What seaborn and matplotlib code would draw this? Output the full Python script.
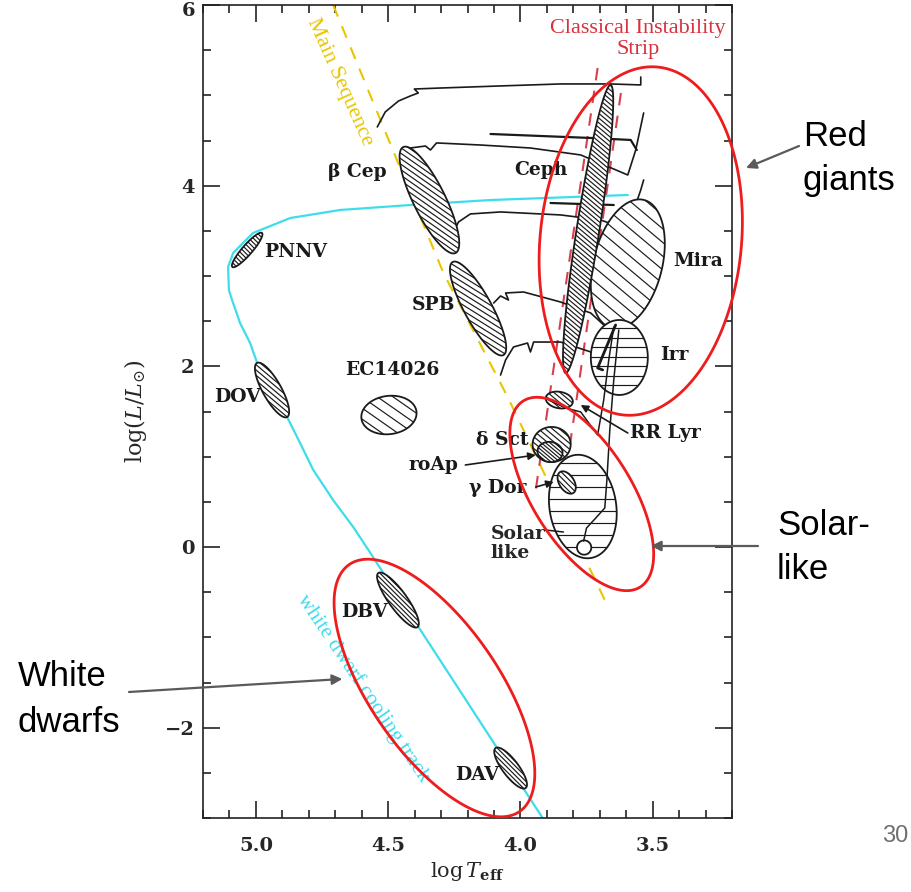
import numpy as np
import matplotlib
matplotlib.use("Agg")
from matplotlib import pyplot as plt
from matplotlib.patches import Polygon
from matplotlib.ticker import MultipleLocator, FuncFormatter
import seaborn as sns

# %%
# Data, all in (log Teff, log L/Lsun)

ms_logt = [4.708, 4.291, 4.048, 3.681]
ms_logl = [6.0, 3.033, 1.660, -0.587]

strip_blue_logt = [3.708, 3.942]
strip_blue_logl = [5.303, 0.631]
strip_red_logt = [3.620, 3.840]
strip_red_logl = [5.026, 0.575]

wd_track_logt = [3.594, 4.113, 4.416, 4.681, 4.870, 5.011, 5.086, 5.105, 5.102, 5.090,
                 5.060, 5.022, 4.995, 4.939, 4.882, 4.833, 4.783, 4.708, 4.632, 4.567, 3.916]
wd_track_logl = [3.897, 3.841, 3.786, 3.731, 3.642, 3.476, 3.255, 3.100, 2.845, 2.734,
                 2.480, 2.258, 2.037, 1.738, 1.439, 1.151, 0.852, 0.520, 0.221, -0.067, -3.0]

# evolutionary tracks (behind the regions)
track1_logt = [4.541, 4.511, 4.461, 4.416, 4.386, 4.401, 4.302, 4.075, 3.848, 3.658, 3.545, 3.545]
track1_logl = [4.650, 4.816, 4.937, 4.993, 5.026, 5.070, 5.081, 5.104, 5.126, 5.126, 5.115, 5.203]
track2_logt = [4.416, 4.359, 4.340, 4.317, 4.151, 3.962, 3.772, 3.594, 3.564, 3.534]
track2_logl = [4.417, 4.439, 4.395, 4.473, 4.450, 4.417, 4.340, 4.118, 4.395, 4.805]
loop2_logt = [4.113, 3.924, 3.734, 3.583, 3.560]
loop2_logl = [4.572, 4.550, 4.528, 4.506, 4.395]
track3_logt = [4.253, 4.234, 4.189, 4.075, 3.848, 3.696, 3.594, 3.571, 3.545, 3.534]
track3_logl = [3.487, 3.598, 3.687, 3.709, 3.676, 3.620, 3.510, 3.731, 3.952, 4.063]
loop3_logt = [3.886, 3.647]
loop3_logl = [3.808, 3.786]
track4_logt = [4.101, 4.075, 4.045, 4.056, 3.988, 3.848, 3.734, 3.685]
track4_logl = [2.701, 2.779, 2.734, 2.812, 2.823, 2.712, 2.590, 2.458]
track5_logt = [4.075, 4.056, 4.026, 3.973, 3.962, 3.950, 3.848, 3.734, 3.696, 3.681]
track5_logl = [1.904, 2.070, 2.214, 2.258, 2.159, 2.269, 2.269, 2.159, 1.982, 1.871]
# tracks drawn over the regions
track6_logt = [3.761, 3.750, 3.715, 3.681, 3.673, 3.662, 3.647, 3.628]
track6_logl = [0.066, 0.210, 0.321, 0.432, 0.742, 1.295, 1.849, 2.402]
track7_logt = [3.893, 3.829, 3.772, 3.708, 3.685, 3.666, 3.647]
track7_logl = [1.627, 1.539, 1.495, 1.240, 1.627, 2.070, 2.436]
track8_logt = [3.640, 3.708, 3.689]
track8_logl = [2.458, 1.982, 1.960]

# pulsator regions: centre, end of the long semi-axis, short/long axis ratio
region_names = ["PNNV", "bCep", "SPB", "DOV", "EC14026", "Mira", "Ceph", "Irr", "RRLyr",
                "Solar", "Sun", "dSct", "roAp", "gDor", "DBV", "DAV"]
region_logt = [5.033, 4.344, 4.160, 4.939, 4.497, 3.594, 3.744, 3.626, 3.853,
               3.764, 3.759, 3.882, 3.888, 3.825, 4.463, 4.037]
region_logl = [3.288, 3.841, 2.640, 1.738, 1.461, 3.133, 3.520, 2.098, 1.627,
               0.448, -0.006, 1.135, 1.052, 0.714, -0.587, -2.447]
region_tip_logt = [4.977, 4.245, 4.064, 4.882, 4.393, 3.655, 3.829, 3.626, 3.802,
                   3.734, 3.732, 3.810, 3.841, 3.800, 4.389, 3.980]
region_tip_logl = [3.476, 3.255, 2.125, 1.439, 1.500, 2.424, 1.926, 1.683, 1.600,
                   -0.122, -0.006, 1.135, 1.030, 0.598, -0.886, -2.668]
region_ratio = [0.22, 0.27, 0.26, 0.30, 0.69, 0.52, 0.078, 0.76, 0.6,
                0.64, 1.0, 0.92, 0.8, 0.6, 0.27, 0.32]

# red circles drawn by hand on the slide
group_names = ["Red giants", "Solar-like", "White dwarfs"]
group_logt = [3.545, 3.768, 4.325]
group_logl = [3.387, 0.587, -1.561]
group_tip_logt = [3.609, 3.547, 4.003]
group_tip_logl = [1.461, -0.443, -2.928]
group_ratio = [0.576, 0.45, 0.43]

# hatch: line angle (deg) and spacing (px)
hatch_style = {
    "PNNV": (-45, 3.2), "bCep": (-35, 4.5), "SPB": (-32, 4.8), "DOV": (-40, 4),
    "EC14026": (-35, 9), "Mira": (-40, 10.5), "Ceph": (-40, 3.6), "Irr": (0, 9.5),
    "RRLyr": (-40, 4), "Solar": (0, 12), "Sun": None, "dSct": (-40, 4.5),
    "roAp": (-40, 2.8), "gDor": (-45, 4), "DBV": (-45, 3.3), "DAV": (-45, 3.3),
}

# %%
sns.set_theme(style="ticks")
plt.rcParams["font.family"] = ["DejaVu Serif"]
plt.rcParams["mathtext.fontset"] = "dejavuserif"

fig = plt.figure(figsize=(9.12, 8.92), dpi=100)
ax = fig.add_axes([203 / 912, 74 / 892, 529 / 912, 813 / 892])
ax.set_facecolor("white")
ax.set_xlim(5.2, 3.2)
ax.set_ylim(-3, 6)
ax.set_autoscale_on(False)


def ellipse(cx, cy, tx, ty, ratio, n=240):
    trans = ax.transData
    c = trans.transform((cx, cy))
    a = trans.transform((tx, ty)) - c
    b = np.array([-a[1], a[0]]) * ratio
    t = np.linspace(0, 2 * np.pi, n)
    pts = c + np.outer(np.cos(t), a) + np.outer(np.sin(t), b)
    return trans.inverted().transform(pts), c, np.hypot(*a)


def hatch(patch, c, r, angle, gap, z):
    d = np.array([np.cos(np.radians(angle)), np.sin(np.radians(angle))])
    nrm = np.array([-d[1], d[0]])
    inv = ax.transData.inverted()
    for k in np.arange(-r, r + gap, gap):
        p = inv.transform([c + k * nrm - r * d, c + k * nrm + r * d])
        ln, = ax.plot(p[:, 0], p[:, 1], color="k", lw=0.85, zorder=z)
        ln.set_clip_path(patch)


# main sequence and instability strip
ax.plot(ms_logt, ms_logl, color="#e8c600", lw=1.5, ls=(0, (6, 5)), zorder=1)
ax.plot(strip_blue_logt, strip_blue_logl, color="#d8404f", lw=1.5, ls=(0, (6, 5)), zorder=1)
ax.plot(strip_red_logt, strip_red_logl, color="#d8404f", lw=1.5, ls=(0, (6, 5)), zorder=1)

# white dwarf cooling track
sns.lineplot(x=wd_track_logt, y=wd_track_logl, sort=False, estimator=None,
             color="#3fdcec", lw=1.6, ax=ax, zorder=1.5)

for tx, ty in [(track1_logt, track1_logl), (track2_logt, track2_logl),
               (track3_logt, track3_logl), (track4_logt, track4_logl),
               (track5_logt, track5_logl)]:
    sns.lineplot(x=tx, y=ty, sort=False, estimator=None, color="k", lw=1.2, ax=ax, zorder=2)
for tx, ty in [(loop2_logt, loop2_logl), (loop3_logt, loop3_logl)]:
    ax.plot(tx, ty, color="k", lw=1.6, zorder=2)

z = 3
for i, name in enumerate(region_names):
    pts, c, r = ellipse(region_logt[i], region_logl[i], region_tip_logt[i],
                        region_tip_logl[i], region_ratio[i])
    face = Polygon(pts, closed=True, facecolor="white", edgecolor="none", zorder=z)
    ax.add_patch(face)
    if hatch_style[name] is not None:
        hatch(face, c, r, hatch_style[name][0], hatch_style[name][1], z + 0.1)
    ax.add_patch(Polygon(pts, closed=True, fill=False, edgecolor="k", lw=1.3, zorder=z + 0.2))
    z += 0.3

for tx, ty in [(track6_logt, track6_logl), (track7_logt, track7_logl)]:
    ax.plot(tx, ty, color="k", lw=1.1, zorder=9)
ax.plot(track8_logt, track8_logl, color="k", lw=2.0, zorder=9)

# labels
lab = dict(fontsize=13.5, fontweight="bold", color="k", ha="center", va="center", zorder=10)
ax.text(4.617, 4.151, "β Cep", **lab)
ax.text(4.848, 3.266, "PNNV", **lab)
ax.text(3.923, 4.174, "Ceph", **lab)
ax.text(3.329, 3.166, "Mira", **lab)
ax.text(4.329, 2.679, "SPB", **lab)
ax.text(4.484, 1.960, "EC14026", **lab)
ax.text(5.071, 1.661, "DOV", **lab)
ax.text(3.416, 2.126, "Irr", **lab)
ax.text(3.453, 1.262, "RR Lyr", **lab)
ax.text(4.067, 1.185, "δ Sct", **lab)
ax.text(4.329, 0.908, "roAp", **lab)
ax.text(4.086, 0.653, "γ Dor", **lab)
ax.text(4.113, 0.039, "Solar\nlike", fontsize=13.5, fontweight="bold", ha="left",
        va="center", linespacing=1.05, zorder=10)
ax.text(4.590, -0.720, "DBV", **lab)
ax.text(4.165, -2.524, "DAV", **lab)

arrow_k = dict(arrowstyle="-|>", color="k", lw=1.2, mutation_scale=11, shrinkA=0, shrinkB=0)
ax.annotate("", xy=(3.942, 1.018), xytext=(4.208, 0.908), arrowprops=arrow_k, zorder=10)
ax.annotate("", xy=(3.874, 0.720), xytext=(3.942, 0.664), arrowprops=arrow_k, zorder=10)
ax.annotate("", xy=(3.772, 1.572), xytext=(3.594, 1.262), arrowprops=arrow_k, zorder=10)
ax.plot([3.905, 3.837], [0.188, 0.166], color="k", lw=1.1, zorder=10)

ax.text(4.685, 5.148, "Main Sequence", color="#e8c600", fontsize=16, family="Liberation Serif",
        rotation=-66, rotation_mode="anchor", ha="center", va="center")
ax.text(4.594, -1.561, "white dwarf cooling track", color="#3fdcec", fontsize=15.5,
        family="Liberation Serif", rotation=-56, rotation_mode="anchor", ha="center", va="center")
ax.text(3.556, 5.625, "Classical Instability\nStrip", color="#d8303c", fontsize=16,
        family="Liberation Serif", ha="center", va="center", linespacing=1.12)

# red hand-drawn groups
for i in range(len(group_names)):
    pts, c, r = ellipse(group_logt[i], group_logl[i], group_tip_logt[i],
                        group_tip_logl[i], group_ratio[i])
    ax.add_patch(Polygon(pts, closed=True, fill=False, edgecolor="#ee1c1c", lw=2,
                         zorder=12, clip_on=False))

arrow_g = dict(arrowstyle="-|>", color="#5a5a5a", lw=1.6, mutation_scale=15, shrinkA=0, shrinkB=0)
ax.annotate("", xy=(3.147, 4.196), xytext=(799, 892 - 146), textcoords="figure pixels",
            arrowprops=arrow_g, annotation_clip=False, zorder=13)
ax.annotate("", xy=(3.507, 0.011), xytext=(758, 892 - 546), textcoords="figure pixels",
            arrowprops=arrow_g, annotation_clip=False, zorder=13)
ax.annotate("", xy=(4.673, -1.461), xytext=(129, 892 - 692), textcoords="figure pixels",
            arrowprops=arrow_g, annotation_clip=False, zorder=13)

side = dict(fontsize=25, family="Liberation Sans", color="black", ha="left", va="baseline")
fig.text(803 / 912, 1 - 146 / 892, "Red", **side)
fig.text(803 / 912, 1 - 190 / 892, "giants", **side)
fig.text(777 / 912, 1 - 535 / 892, "Solar-", **side)
fig.text(777 / 912, 1 - 579 / 892, "like", **side)
fig.text(18 / 912, 1 - 686 / 892, "White", **side)
fig.text(18 / 912, 1 - 732 / 892, "dwarfs", **side)
fig.text(895 / 912, 1 - 842 / 892, "30", fontsize=17, family="Liberation Sans",
         color="#707070", ha="center", va="baseline")

# axes cosmetics
ax.xaxis.set_major_locator(MultipleLocator(0.5))
ax.xaxis.set_minor_locator(MultipleLocator(0.1))
ax.yaxis.set_major_locator(MultipleLocator(2))
ax.yaxis.set_minor_locator(MultipleLocator(0.5))
# the top label "6" is placed by hand a little lower so it stays on the canvas
ax.yaxis.set_major_formatter(FuncFormatter(lambda v, p: "" if v > 5.5 else f"{v:g}".replace("-", "\u2212")))
ax.annotate("6", xy=(0, 6), xycoords=("axes fraction", "data"), xytext=(-8, -6),
            textcoords="offset pixels", ha="right", va="center", fontsize=14, fontweight="bold")
ax.tick_params(which="both", direction="in", top=True, right=True, color="#222", width=1.2)
ax.tick_params(which="major", length=12, labelsize=14)
ax.tick_params(which="minor", length=6)
ax.tick_params(axis="x", pad=14)
ax.tick_params(axis="y", pad=6)
for lbl in ax.get_xticklabels() + ax.get_yticklabels():
    lbl.set_fontweight("bold")
for s in ax.spines.values():
    s.set_color("#222")
    s.set_linewidth(1.2)

ax.set_xlabel(r"$\log T_{\mathbf{eff}}$", fontsize=15)
ax.set_ylabel(r"$\log(L/L_{\odot})$", fontsize=16)
ax.xaxis.set_label_coords(0.5, -0.052)
ax.yaxis.set_label_coords(-0.102, 0.5)
ax.set_xlim(5.2, 3.2)
ax.set_ylim(-3, 6)

fig.savefig("out.png", dpi=100)
